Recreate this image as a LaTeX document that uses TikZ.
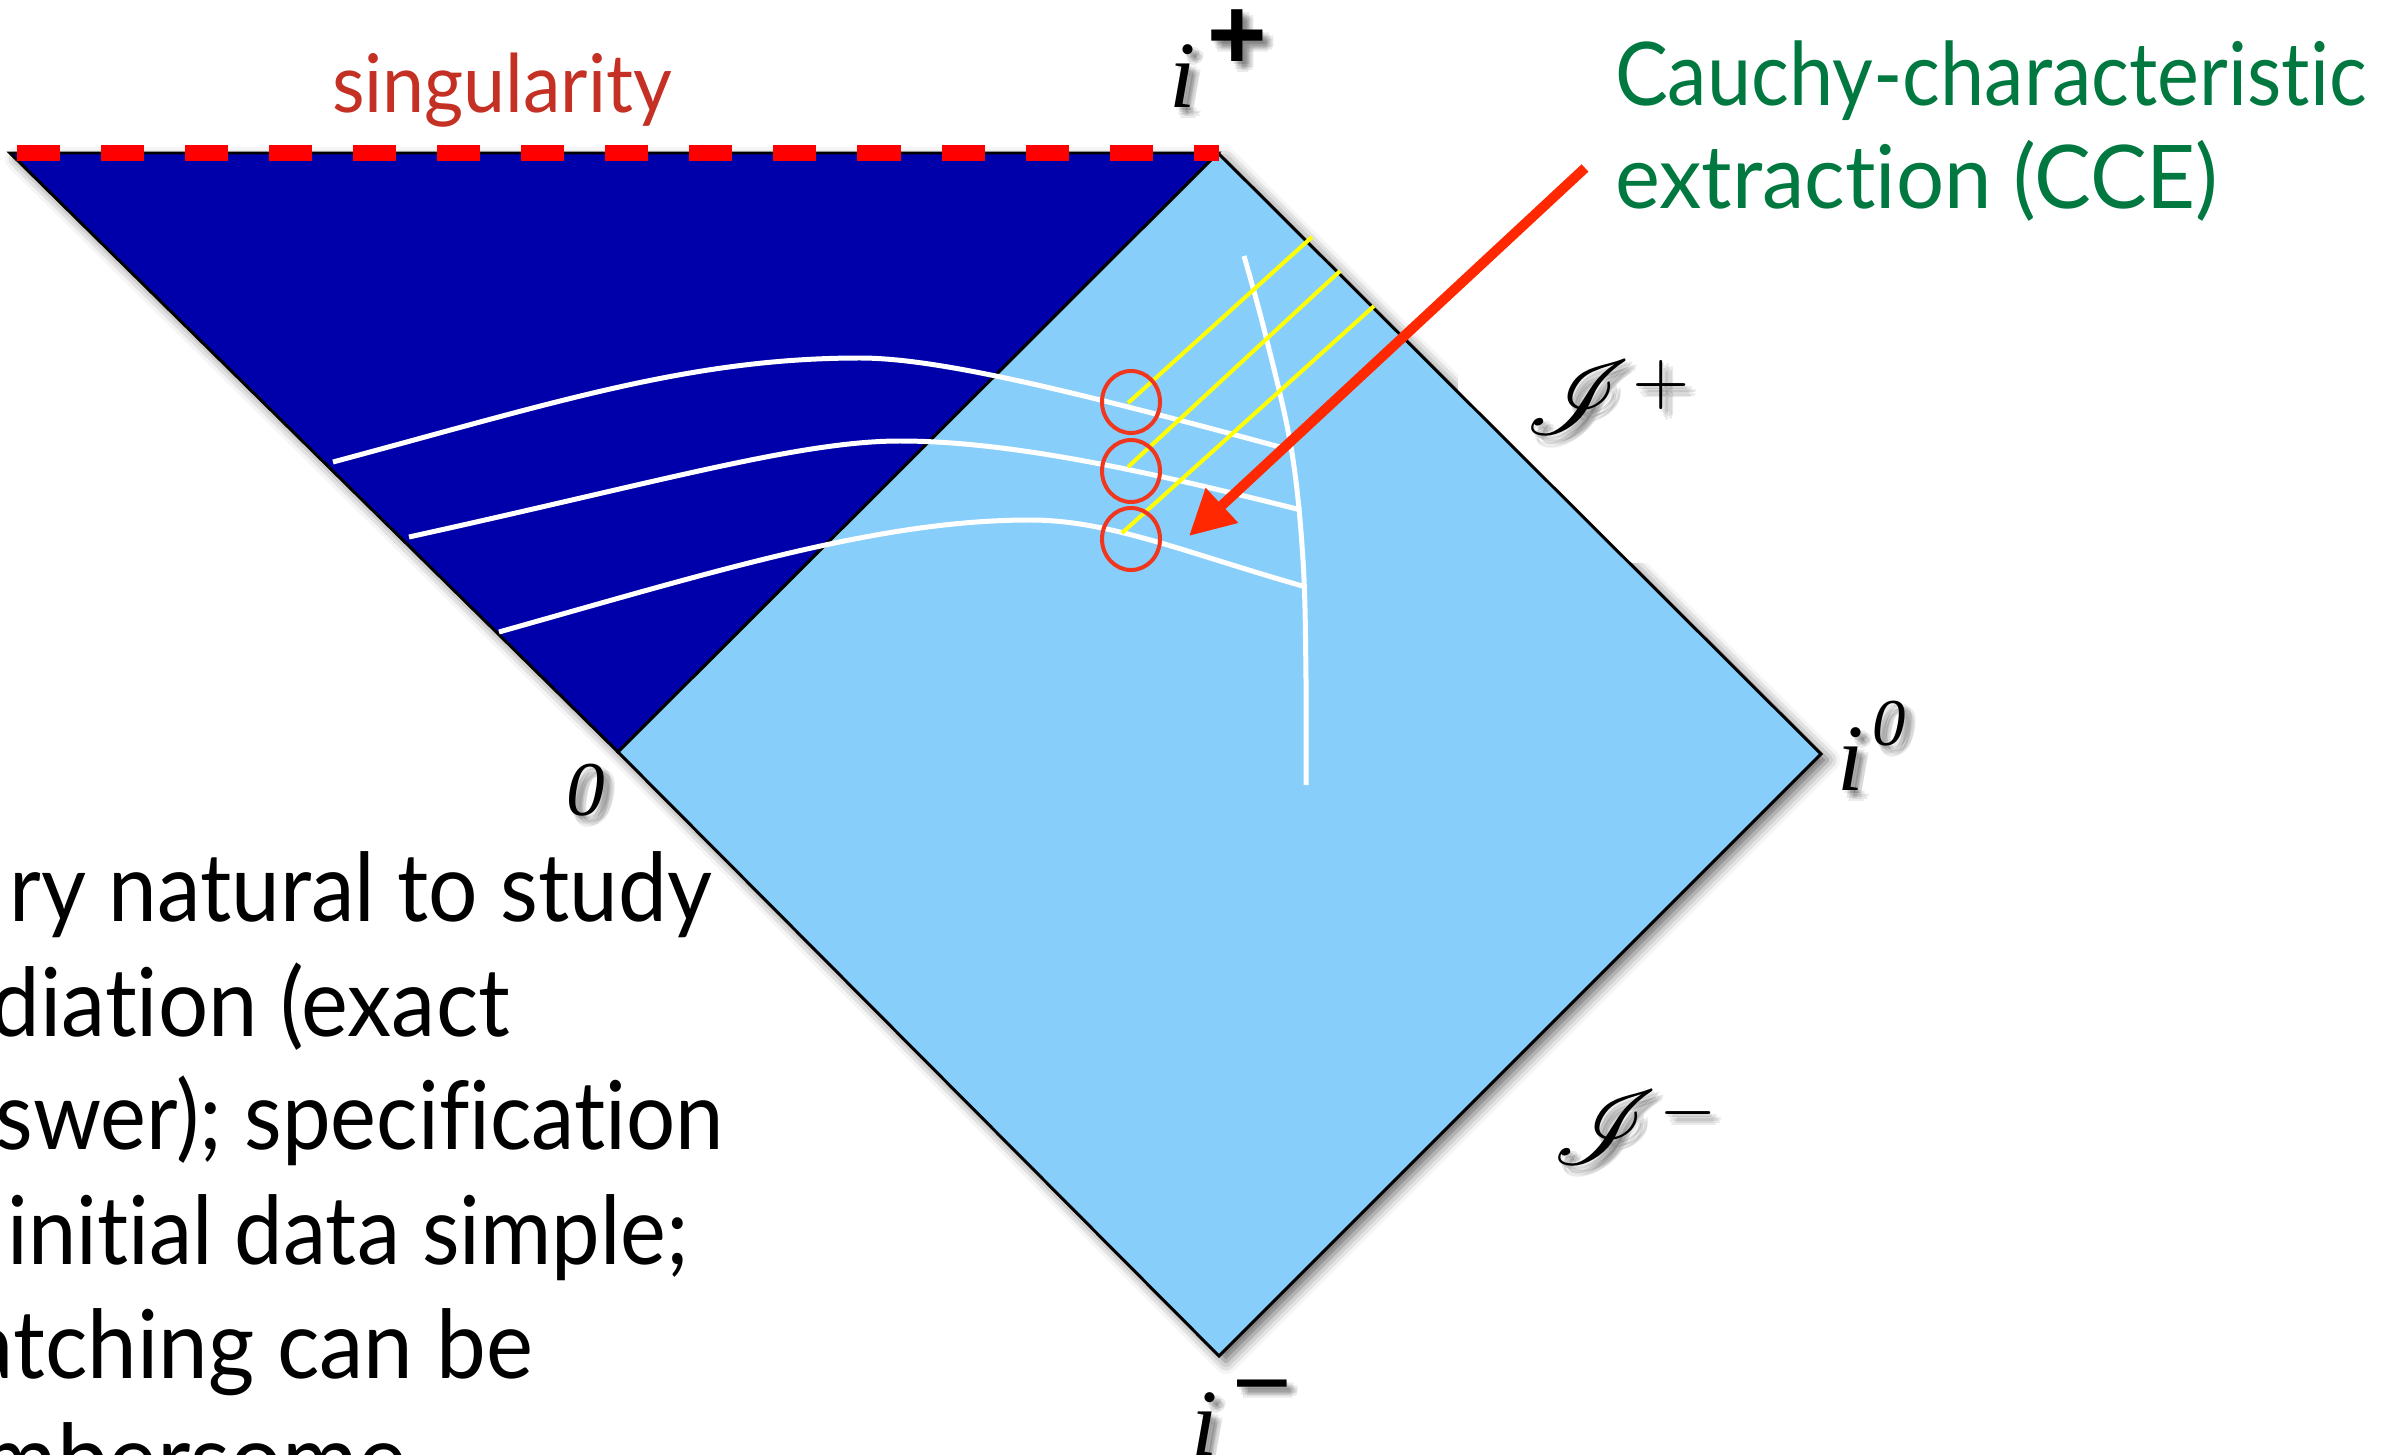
\documentclass[tikz,border=0pt]{standalone}
\usepackage{graphicx}
\usepackage{fontspec}
\usepackage{mathrsfs}
\setmainfont{Lato}[Ligatures=NoCommon]
\newfontfamily\tms{Liberation Serif}
\newfontfamily\ars{Liberation Sans}
\usetikzlibrary{arrows.meta,shadows.blur}
\definecolor{darkblue}{RGB}{0,0,170}
\definecolor{lightblue}{RGB}{136,206,250}
\definecolor{singred}{RGB}{255,0,0}
\definecolor{txtred}{RGB}{196,48,36}
\definecolor{cgreen}{RGB}{0,120,64}
\definecolor{arrowred}{RGB}{255,40,0}
\definecolor{circred}{RGB}{240,55,30}
\definecolor{yline}{RGB}{255,255,0}
\newcommand\fsz[1]{\fontsize{#1}{#1}\selectfont}
\newcommand\fitw[2]{\resizebox{#1}{\height}{#2}}
\newcommand\shlabel[5]{%
  \foreach \dx/\dy [count=\k] in {2/3,5/5,8/7,4/8,7/3,10/9,6/11,11/6}{%
    \node[lbl, anchor=#4, opacity=0.08] (#1s\k) at ({#2+\dx},{#3+\dy}) {#5};}
  \node[lbl, anchor=#4] (#1) at (#2,#3) {#5};}
\begin{document}
\begin{tikzpicture}[x=0.01cm,y=-0.01cm,
  lbl/.style={inner sep=0pt, outer sep=0pt},
  edge/.style={draw=black, line width=0.85pt, line join=miter},
  slice/.style={white, line width=1.42pt},
  ray/.style={yline, line width=1.14pt},
  ring/.style={circred, line width=1.14pt},
  body/.style={lbl, anchor=base east, font=\fsz{27pt}}]
\useasboundingbox (0,0) rectangle (2403,1455);
\clip (0,0) rectangle (2403,1455);
\coordinate (L) at (10,153);
\coordinate (IP) at (1218,153);
\coordinate (O) at (618,752);
\coordinate (IZ) at (1821,754);
\coordinate (IM) at (1219,1356);
% shadow of the whole diagram
\fill[white, blur shadow={shadow xshift=0.07cm, shadow yshift=-0.06cm, shadow blur radius=0.12cm, shadow opacity=60}]
  (L) -- (IP) -- (IZ) -- (IM) -- (O) -- cycle;
% white label backgrounds
\fill[white] (1458,373) rectangle (1730,563);
\fill[white] (1550,1065) rectangle (1740,1190);
% regions
\filldraw[edge, fill=darkblue] (L) -- (IP) -- (O) -- cycle;
\filldraw[edge, fill=lightblue] (IP) -- (IZ) -- (IM) -- (O) -- cycle;
% singularity
\coordinate (S1) at (17,153);
\coordinate (S2) at (1219,153);
\draw[singred, line width=4.27pt, dash pattern=on 0.43cm off 0.41cm] (S1) -- (S2);
% slices
\draw[slice] (333,462) .. controls (553,403) and (690,358) .. (860,358)
                       .. controls (940,358) and (1080,393) .. (1280,447);
\draw[slice] (409,537) .. controls (659,482) and (800,441) .. (900,441)
                       .. controls (1020,441) and (1171,477.5) .. (1301,510);
\draw[slice] (499,632) .. controls (719,570) and (880,520) .. (1030,520)
                       .. controls (1110,520) and (1186,553) .. (1306,587);
\draw[slice] plot[smooth, tension=0.6] coordinates {(1244,256) (1265,333) (1291,447) (1303,560) (1306,680) (1306,785)};
% characteristics
\draw[ray] (1128,403) -- (1312,237);
\draw[ray] (1128,467) -- (1340,271);
\draw[ray] (1122,533) -- (1374,306);
% circles
\draw[ring] (1131,402) ellipse [x radius=29, y radius=31];
\draw[ring] (1131,471) ellipse [x radius=29, y radius=31];
\draw[ring] (1131,539) ellipse [x radius=29, y radius=31];
% arrow
\coordinate (A1) at (1585,168);
\coordinate (A2) at (1189,536);
\draw[arrowred, line width=2.85pt, -{Triangle[length=0.45cm,width=0.45cm]}] (A1) -- (A2);
% texts
\node[lbl, anchor=base west, text=txtred, font=\fsz{23pt}] (sing) at (332,113) {\fitw{3.40cm}{singularity}};
\node[lbl, anchor=base west, text=cgreen, font=\fsz{25pt}] (cce1) at (1615,106) {\fitw{7.51cm}{Cauchy-characteristic}};
\node[lbl, anchor=base west, text=cgreen, font=\fsz{25pt}] (cce2) at (1615,209) {\fitw{6.03cm}{extraction (CCE)}};
\node[body] (b1) at (712,921) {\fitw{7.02cm}{ry natural to study}};
\node[body] (b2) at (510,1036) {\fitw{5.19cm}{diation (exact}};
\node[body] (b3) at (724,1149) {\fitw{7.28cm}{swer); specification}};
\node[body] (b4) at (689,1264) {\fitw{6.81cm}{initial data simple;}};
\node[body] (b5) at (533,1378) {\fitw{5.63cm}{atching can be}};
\node[body] (b6) at (407,1492) {\fitw{4.25cm}{mbersome}};
% point labels
\shlabel{ipi}{1183}{108}{base}{\fsz{27pt}\tms\itshape i}
\shlabel{ipp}{1207}{70}{base west}{\fsz{29pt}\ars\bfseries +}
\shlabel{izi}{1851}{790}{base}{\fsz{27pt}\tms\itshape i}
\shlabel{izz}{1872}{745}{base west}{\fsz{19pt}\tms\itshape 0}
\shlabel{imi}{1205}{1455}{base}{\fsz{27pt}\tms\itshape i}
\shlabel{imm}{1232}{1417}{base west}{\fsz{29pt}\ars −}
\shlabel{orig}{586}{815}{base}{\fsz{22pt}\tms\itshape 0}
\shlabel{sp}{1525}{435}{base west}{\scalebox{3}{$\mathscr{I}$}}
\shlabel{spp}{1632}{404}{base west}{\scalebox{2.1}{$+$}}
\shlabel{sm}{1552}{1164}{base west}{\scalebox{3}{$\mathscr{I}$}}
\shlabel{smm}{1659}{1131}{base west}{\scalebox{2.1}{$-$}}
\end{tikzpicture}
\end{document}
